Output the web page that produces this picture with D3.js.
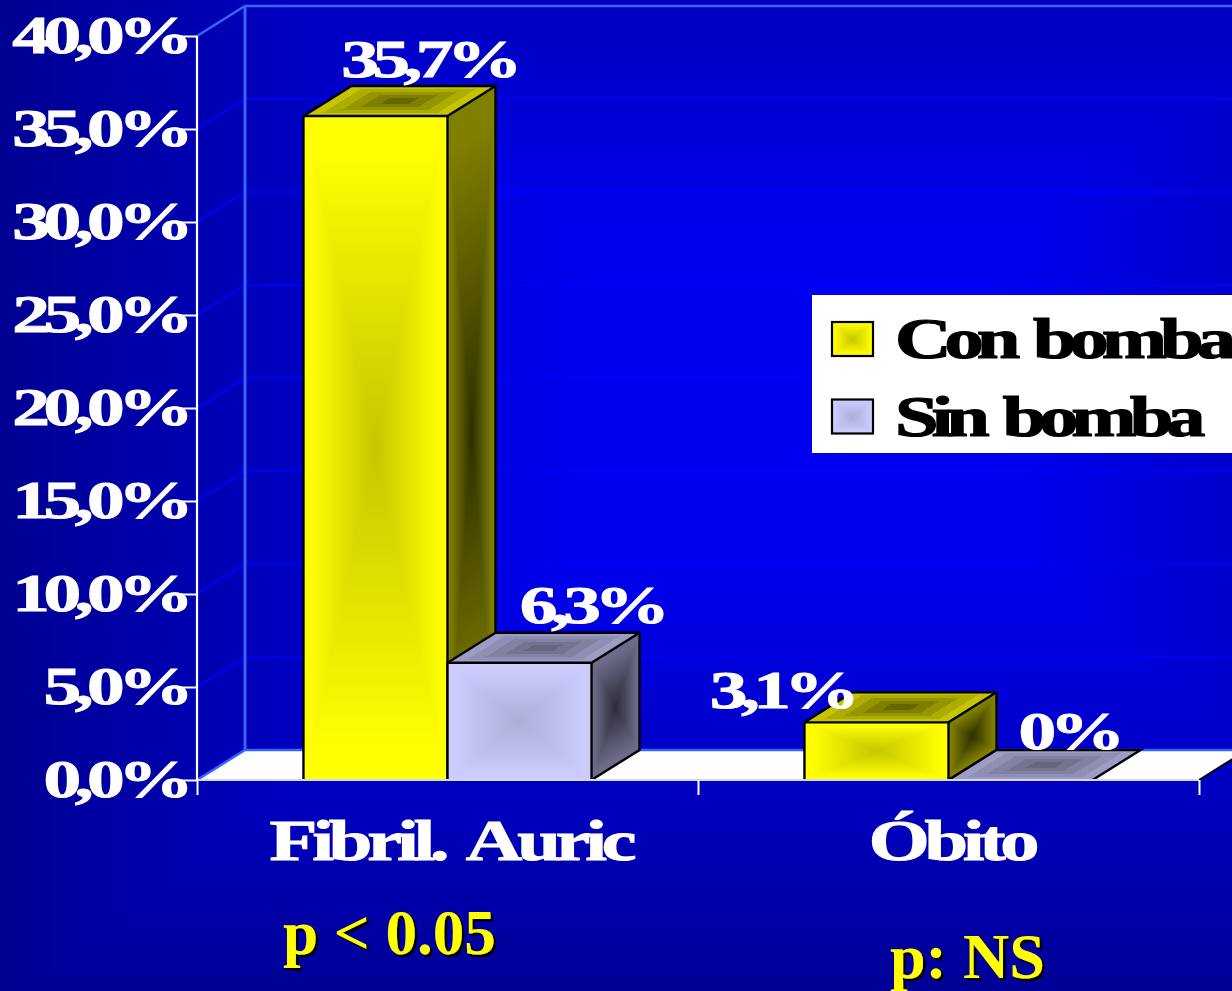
<!DOCTYPE html>
<html>
<head>
<meta charset="utf-8">
<script src="https://cdn.jsdelivr.net/npm/d3@7/dist/d3.min.js"></script>
<style>
  html, body { margin: 0; padding: 0; background: #000090; overflow: hidden; }
  svg { display: block; }
  text { font-family: "Liberation Serif", "Times New Roman", serif; font-weight: bold; }
</style>
</head>
<body>
<svg id="chart" width="1232" height="991"></svg>
<script>
// Chart data
const categories = ["Fibril. Auric", "Óbito"];
const seriesNames = ["Con bomba", "Sin bomba"];
const conBomba = [35.7, 3.1];
const sinBomba = [6.3, 0];
const conBombaLabels = ["35,7%", "3,1%"];
const sinBombaLabels = ["6,3%", "0%"];
const yTickValues = [0, 5, 10, 15, 20, 25, 30, 35, 40];
const yTickLabels = ["0,0%", "5,0%", "10,0%", "15,0%", "20,0%", "25,0%", "30,0%", "35,0%", "40,0%"];
const pValues = ["p < 0.05", "p: NS"];

// Layout of the pseudo-3D box
const W = 1232, H = 991;
const depthX = 48, depthY = -30;
const plot = { left: 197, right: 1199, top: 36, bottom: 780 };

const svg = d3.select("#chart");
const defs = svg.append("defs");

// Hard-edged drop shadow for the significance notes
const hardShadow = defs.append("filter").attr("id", "hardShadow")
  .attr("x", "-5%").attr("y", "-5%").attr("width", "110%").attr("height", "110%");
hardShadow.append("feDropShadow")
  .attr("dx", 2.5).attr("dy", 2.5).attr("stdDeviation", 0)
  .attr("flood-color", "#000000").attr("flood-opacity", 1);

const y = d3.scaleLinear().domain([0, 40]).range([plot.bottom, plot.top]);
const xBand = d3.scaleBand().domain(categories)
  .range([plot.left, plot.right]).paddingInner(0.425).paddingOuter(0.2125);
const xSeries = d3.scaleBand().domain(seriesNames).range([0, xBand.bandwidth()]);
const xTicks = d3.scaleLinear().domain([0, 2]).range([plot.left, plot.right]);

let gradientId = 0;

// Paints a quadrilateral with a "from centre" gradient: four triangles,
// each shaded from its outer edge in to the shared centre point.
// bands: hard steps instead of a smooth ramp; hold/reach: where the ramp starts and ends.
function shadedFace(parent, corners, edgeColour, centreColour, bands, hold, reach) {
  const cx = d3.mean(corners, d => d[0]);
  const cy = d3.mean(corners, d => d[1]);
  const mix = d3.interpolateRgb(edgeColour, centreColour);
  const g = parent.append("g");
  g.append("polygon").attr("points", corners.join(" ")).attr("fill", edgeColour);
  corners.forEach((a, i) => {
    const b = corners[(i + 1) % corners.length];
    const ex = b[0] - a[0], ey = b[1] - a[1];
    const len2 = ex * ex + ey * ey;
    if (len2 === 0) return;
    const t = ((cx - a[0]) * ex + (cy - a[1]) * ey) / len2;
    const id = "shade" + (gradientId++);
    const grad = defs.append("linearGradient").attr("id", id)
      .attr("gradientUnits", "userSpaceOnUse")
      .attr("x1", a[0] + t * ex).attr("y1", a[1] + t * ey)
      .attr("x2", cx).attr("y2", cy);
    if (bands) {
      d3.range(bands).forEach(k => {
        const c = mix(k / (bands - 1));
        grad.append("stop").attr("offset", k / bands).attr("stop-color", c);
        grad.append("stop").attr("offset", (k + 1) / bands).attr("stop-color", c);
      });
    } else {
      grad.append("stop").attr("offset", hold || 0).attr("stop-color", edgeColour);
      grad.append("stop").attr("offset", reach || 1).attr("stop-color", centreColour);
    }
    g.append("polygon")
      .attr("points", [a, b, [cx, cy]].join(" "))
      .attr("fill", `url(#${id})`)
      .attr("stroke", `url(#${id})`)
      .attr("stroke-width", 0.8);
  });
  return g;
}

// Heavy, horizontally stretched slide lettering
function wideText(parent, str, x, yPos, opts) {
  return parent.append("text")
    .attr("transform", `translate(${x},${yPos}) scale(${opts.sx || 1},1)`)
    .attr("text-anchor", opts.anchor || "start")
    .attr("font-size", opts.size)
    .attr("letter-spacing", opts.spacing || 0)
    .attr("word-spacing", opts.wordGap || 0)
    .attr("fill", opts.fill)
    .attr("stroke", opts.fill)
    .attr("stroke-width", opts.weight || 0)
    .text(str);
}

// Slide background: centre-out blue wash, its centre sitting off the right of the frame
shadedFace(svg, [[-8, -220], [1608, -220], [1608, 1020], [-8, 1020]], "#000090", "#0000f0", 0, 0, 0.75);

// Back wall and side wall rules
const chart = svg.append("g");
const gridG = chart.append("g");
yTickValues.forEach(v => {
  const isTop = v === 40, isFloor = v === 0;
  const colour = isTop ? "#3366ff" : "#0000ff";
  const w = isTop ? 2.5 : 1.6;
  if (!isFloor) {
    gridG.append("path")
      .attr("d", d3.line()([[plot.left, y(v)], [plot.left + depthX, y(v) + depthY], [W + 5, y(v) + depthY]]))
      .attr("fill", "none").attr("stroke", colour).attr("stroke-width", w);
  }
});

// Floor
chart.append("polygon")
  .attr("points", [[plot.left, y(0)], [plot.left + depthX, y(0) + depthY],
                   [plot.right + depthX, y(0) + depthY], [plot.right, y(0)]].join(" "))
  .attr("fill", "#ffffff");
chart.append("path")
  .attr("d", d3.line()([[plot.left, y(0)], [plot.left + depthX, y(0) + depthY], [W + 5, y(0) + depthY]]))
  .attr("fill", "none").attr("stroke", "#3366ff").attr("stroke-width", 2.5);
chart.append("line")
  .attr("x1", plot.left + depthX).attr("x2", plot.left + depthX)
  .attr("y1", y(40) + depthY).attr("y2", y(0) + depthY)
  .attr("stroke", "#3366ff").attr("stroke-width", 3);
chart.append("line")
  .attr("x1", plot.right).attr("y1", y(0))
  .attr("x2", plot.right + depthX).attr("y2", y(0) + depthY)
  .attr("stroke", "#000000").attr("stroke-width", 2);

// Bars: each one is a front, a top and a side face
const palette = {
  "Con bomba": { front: ["#ffff00", "#c6c600"], top: ["#c4c400", "#666600"], side: ["#808000", "#2e2e00"] },
  "Sin bomba": { front: ["#ccccff", "#aeaed8"], top: ["#9c9cc4", "#666680"], side: ["#6c6c8a", "#2c2c38"] }
};
const seriesValues = { "Con bomba": conBomba, "Sin bomba": sinBomba };

function drawBar(category, series, value) {
  const x0 = xBand(category) + xSeries(series);
  const x1 = x0 + xSeries.bandwidth();
  const yTop = y(value), yBase = y(0);
  const colours = palette[series];
  const g = chart.append("g");
  const topFace = [[x0, yTop], [x0 + depthX, yTop + depthY], [x1 + depthX, yTop + depthY], [x1, yTop]];
  const sideFace = [[x1, yTop], [x1 + depthX, yTop + depthY], [x1 + depthX, yBase + depthY], [x1, yBase]];
  const frontFace = [[x0, yTop], [x1, yTop], [x1, yBase], [x0, yBase]];
  if (value > 0) {
    shadedFace(g, sideFace, colours.side[0], colours.side[1], 0, 0.1);
    shadedFace(g, frontFace, colours.front[0], colours.front[1], 0, 0.1);
  }
  shadedFace(g, topFace, colours.top[0], colours.top[1], 5);
  const outline = value > 0
    ? [[x0, yBase], [x0, yTop], [x0 + depthX, yTop + depthY], [x1 + depthX, yTop + depthY],
       [x1 + depthX, yBase + depthY], [x1, yBase]]
    : [[x0, yBase], [x0 + depthX, yTop + depthY], [x1 + depthX, yTop + depthY], [x1, yBase]];
  g.append("path").attr("d", d3.line()(outline))
    .attr("fill", "none").attr("stroke", "#000").attr("stroke-width", 2.4);
  if (value > 0) {
    g.append("path")
      .attr("d", d3.line()([[x0, yTop], [x1, yTop], [x1 + depthX, yTop + depthY]]))
      .attr("fill", "none").attr("stroke", "#000").attr("stroke-width", 2.4);
    g.append("line").attr("x1", x1).attr("x2", x1).attr("y1", yTop).attr("y2", yBase)
      .attr("stroke", "#000").attr("stroke-width", 2.4);
  }
}

categories.forEach((category, i) => {
  seriesNames.forEach(series => drawBar(category, series, seriesValues[series][i]));
});

// Axes
const yAxisG = svg.append("g")
  .attr("transform", `translate(${plot.left},0)`)
  .call(d3.axisLeft(y).tickValues(yTickValues).tickSize(16).tickFormat(""));
const xAxisG = svg.append("g")
  .attr("transform", `translate(0,${plot.bottom})`)
  .call(d3.axisBottom(xTicks).tickValues([0, 1, 2]).tickSize(15).tickSizeOuter(15).tickFormat(""));
yAxisG.select(".domain").attr("d", `M0,${plot.top}V${plot.bottom}`).attr("stroke", "#ffffff").attr("stroke-width", 2.2);
yAxisG.selectAll(".tick line").attr("stroke", "#ffffff").attr("stroke-width", 2);
xAxisG.select(".domain").attr("d", `M${plot.left},0H${plot.right}`).attr("stroke", "#d8d8d8").attr("stroke-width", 2.2);
xAxisG.selectAll(".tick line").attr("stroke", "#ffffff").attr("stroke-width", 2);

// Axis text
const textG = svg.append("g");
const numberStyle = { size: 52, sx: 1.45, spacing: -4.5, fill: "#ffffff", weight: 0.9 };
yTickValues.forEach((v, i) => wideText(textG, yTickLabels[i], 187, y(v) + 17, { ...numberStyle, anchor: "end" }));
categories.forEach(category => {
  wideText(textG, category, xBand(category) + xBand.bandwidth() / 2 + 3, 860,
    { anchor: "middle", size: 56, sx: 1.4, spacing: -3.7, wordGap: 8, fill: "#ffffff", weight: 1 });
});

// Value labels, set by hand beside their bars as on the slide
const labelNudges = {
  "Con bomba": [[29, -9], [-119, 16]],
  "Sin bomba": [[48, -10], [24, -1]]
};
const seriesLabels = { "Con bomba": conBombaLabels, "Sin bomba": sinBombaLabels };
categories.forEach((category, i) => {
  seriesNames.forEach(series => {
    const x0 = xBand(category) + xSeries(series);
    const [nx, ny] = labelNudges[series][i];
    wideText(textG, seriesLabels[series][i],
      x0 + xSeries.bandwidth() / 2 + depthX / 2 + nx,
      y(seriesValues[series][i]) + depthY + ny,
      { ...numberStyle, anchor: "middle" });
  });
});

// Legend
const legend = svg.append("g");
legend.append("rect").attr("x", 812).attr("y", 295).attr("width", W - 812).attr("height", 158).attr("fill", "#ffffff");
seriesNames.forEach((name, i) => {
  const top = 322 + i * 77.5;
  const corners = [[832, top], [873, top], [873, top + 34], [832, top + 34]];
  shadedFace(legend, corners, palette[name].front[0], palette[name].front[1], 0, 0.1);
  legend.append("rect").attr("x", 832).attr("y", top).attr("width", 41).attr("height", 34)
    .attr("fill", "none").attr("stroke", "#000").attr("stroke-width", 2.2);
  wideText(legend, name, 895, 358 + i * 78, { size: 56, sx: 1.4, spacing: -5, wordGap: 5, fill: "#000000", weight: 1.2 });
});

// Significance notes under each group
const pPositions = [[283, 954, 63], [890, 978, 64]];
pValues.forEach((p, i) => {
  const [px, py, size] = pPositions[i];
  wideText(svg, p, px, py, { size, fill: "#ffff00" }).attr("filter", "url(#hardShadow)");
});
</script>
</body>
</html>
